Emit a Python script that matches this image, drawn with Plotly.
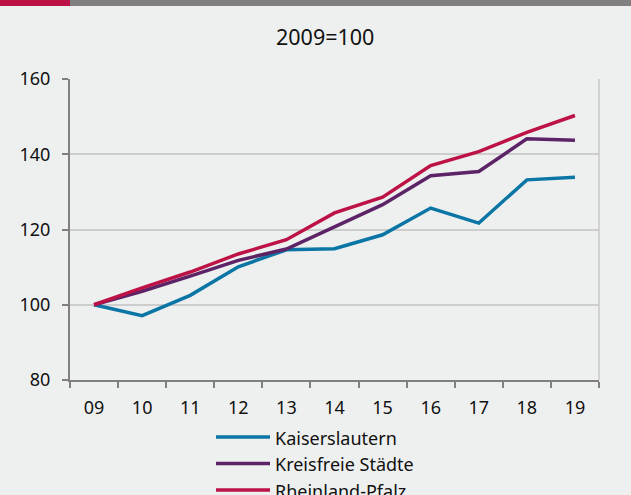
import plotly.graph_objects as go

years = ["09", "10", "11", "12", "13", "14", "15", "16", "17", "18", "19"]
kaiserslautern = [100, 97.1, 102.5, 110.1, 114.6, 114.9, 118.6, 125.7, 121.7, 133.2, 133.9]
kreisfreie = [100, 103.6, 107.6, 111.8, 114.8, 120.8, 126.6, 134.3, 135.4, 144.1, 143.7]
rheinland = [100, 104.5, 108.7, 113.5, 117.3, 124.4, 128.6, 137.0, 140.7, 145.8, 150.3]
series_names = ["Kaiserslautern", "Kreisfreie Städte", "Rheinland-Pfalz"]
colors = ["#0b76a5", "#5c2366", "#bd1246"]
title_text = "2009=100"

FONT = "Noto Sans, Open Sans, sans-serif"
fig = go.Figure()
for name, vals, c in zip(series_names, [kaiserslautern, kreisfreie, rheinland], colors):
    fig.add_trace(go.Scatter(x=years, y=vals, mode="lines", name=name,
                             line=dict(color=c, width=3.5), showlegend=False))

W, H = 631, 495
ml, mr, mt, mb = 70, 32, 79, 115
pw, ph = W - ml - mr, H - mt - mb

def px_to_paper_x(x):
    return (x - ml) / pw

def px_to_paper_y(y):
    return (H - mb - y) / ph

shapes = []
annotations = []
# top bar
shapes.append(dict(type="rect", xref="paper", yref="paper",
                   x0=px_to_paper_x(0), x1=px_to_paper_x(W), y0=px_to_paper_y(6), y1=px_to_paper_y(0),
                   fillcolor="#808080", line=dict(width=0), layer="above"))
shapes.append(dict(type="rect", xref="paper", yref="paper",
                   x0=px_to_paper_x(0), x1=px_to_paper_x(70), y0=px_to_paper_y(6), y1=px_to_paper_y(0),
                   fillcolor="#bd1246", line=dict(width=0), layer="above"))
# right border
shapes.append(dict(type="line", xref="paper", yref="paper", x0=1, x1=1, y0=0, y1=1,
                   line=dict(color="#c8c8c8", width=1.5)))
# custom legend
for i, (name, c) in enumerate(zip(series_names, colors)):
    y = 437 + i * 26.5
    shapes.append(dict(type="line", xref="paper", yref="paper",
                       x0=px_to_paper_x(216), x1=px_to_paper_x(270),
                       y0=px_to_paper_y(y), y1=px_to_paper_y(y),
                       line=dict(color=c, width=3.5)))
    annotations.append(dict(text=name, xref="paper", yref="paper",
                            x=px_to_paper_x(273), y=px_to_paper_y(y + 0.5),
                            xanchor="left", yanchor="middle", showarrow=False,
                            font=dict(size=18, color="#111111", family=FONT)))
annotations.append(dict(text=title_text, xref="paper", yref="paper",
                        x=px_to_paper_x(325), y=px_to_paper_y(37),
                        xanchor="center", yanchor="middle", showarrow=False,
                        font=dict(size=21.5, color="#111111", family=FONT)))

fig.update_layout(
    width=W, height=H,
    margin=dict(l=ml, r=mr, t=mt, b=mb, pad=0),
    paper_bgcolor="#eef0ef", plot_bgcolor="#eef0ef",
    font=dict(family=FONT, size=18, color="#111111"),
    shapes=shapes, annotations=annotations,
    xaxis=dict(type="category", range=[-0.5, 10.5], showgrid=False,
               showline=True, linecolor="#808080", linewidth=2,
               ticks="outside", tickson="boundaries", ticklen=6, tickcolor="#808080", tickwidth=1.5,
               ticklabelstandoff=10, tickfont=dict(size=18), zeroline=False),
    yaxis=dict(range=[80, 160], dtick=20, showgrid=True, gridcolor="#cdcdcd", gridwidth=1.5,
               showline=True, linecolor="#808080", linewidth=2,
               ticks="outside", ticklen=6, tickcolor="#808080", tickwidth=1.5,
               ticklabelstandoff=8, tickfont=dict(size=18), zeroline=False),
)

fig.write_html("out.html", config={"displayModeBar": False},
               post_script="document.body.style.margin='0';document.body.style.overflow='hidden';")
